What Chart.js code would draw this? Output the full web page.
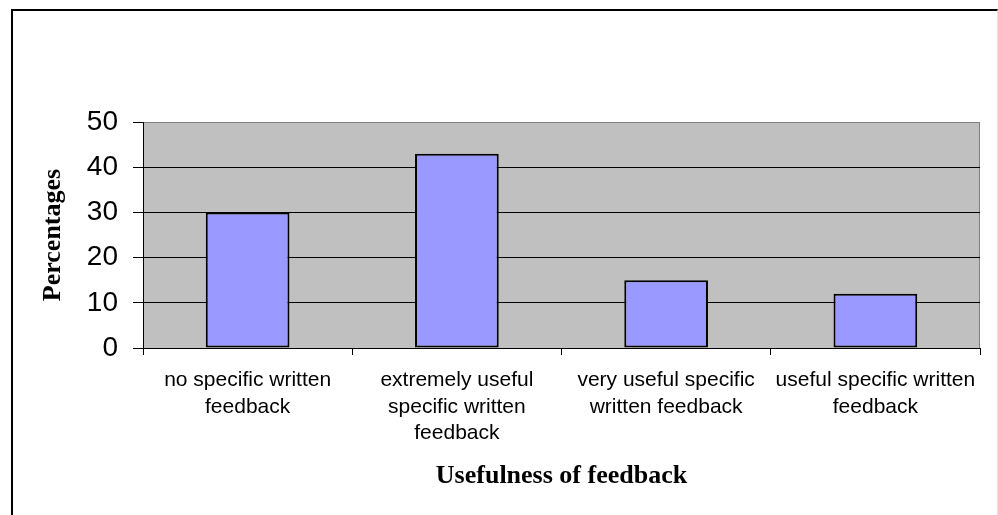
<!DOCTYPE html>
<html>
<head>
<meta charset="utf-8">
<script src="https://cdn.jsdelivr.net/npm/chart.js"></script>
<style>
  body { margin: 0; background: #fff; }
  #wrap { position: relative; width: 998px; height: 515px; }
  #frame { position: absolute; left: 11px; top: 9px; right: 0; bottom: -5px;
    border-left: 2px solid #000; border-top: 2px solid #000; border-right: 1px solid #e4e4e4; }
  canvas { position: absolute; left: 0; top: 0; }
</style>
</head>
<body>
<div id="wrap">
  <div id="frame"></div>
  <canvas id="c" width="998" height="515"></canvas>
</div>
<script>
const categories = [
  ['no specific written', 'feedback'],
  ['extremely useful', 'specific written', 'feedback'],
  ['very useful specific', 'written feedback'],
  ['useful specific written', 'feedback']
];
const percentages = [30, 43, 15, 12];
const yTicks = [0, 10, 20, 30, 40, 50];

// grey plot area with a grey frame on the right
const plotBg = {
  id: 'plotBg',
  beforeDraw(chart) {
    let a = chart.chartArea, ctx = chart.ctx;
    ctx.save();
    ctx.fillStyle = '#c0c0c0';
    ctx.fillRect(a.left, a.top, a.right - a.left, a.bottom - a.top);
    ctx.strokeStyle = '#808080';
    ctx.lineWidth = 1;
    ctx.beginPath();
    ctx.moveTo(Math.round(a.right) - 0.5, a.top);
    ctx.lineTo(Math.round(a.right) - 0.5, a.bottom);
    ctx.stroke();
    ctx.restore();
  }
};

new Chart(document.getElementById('c'), {
  type: 'bar',
  data: {
    labels: categories,
    datasets: [{
      data: percentages,
      backgroundColor: '#9999ff',
      borderColor: '#000',
      borderWidth: 2,
      borderSkipped: false,
      categoryPercentage: 1,
      barPercentage: 0.4
    }]
  },
  options: {
    responsive: false,
    animation: false,
    devicePixelRatio: 1,
    layout: { padding: { top: 122, right: 18, left: 0, bottom: 0 } },
    plugins: { legend: { display: false }, tooltip: { enabled: false } },
    scales: {
      x: {
        afterFit: function(s) { s.height = 167; },
        grid: { offset: true, drawOnChartArea: false, drawTicks: true, tickLength: 7, tickColor: '#000' },
        border: { color: '#000', width: 1 },
        ticks: {
          color: '#000', padding: 12, autoSkip: false, maxRotation: 0,
          font: { family: 'Liberation Sans, Arial', size: 21, lineHeight: 1.27 }
        },
        title: {
          display: true, text: 'Usefulness of feedback', color: '#000',
          font: { family: 'Liberation Serif, Times New Roman', size: 26, weight: 'bold' },
          padding: { top: 0, bottom: 23 }
        }
      },
      y: {
        min: 0, max: 50,
        afterFit: function(s) { s.width = 143; },
        afterBuildTicks: function(s) { s.ticks = yTicks.map(v => ({ value: v })); },
        grid: {
          color: ctx => ctx.tick && ctx.tick.value === 50 ? '#808080' : '#000',
          tickColor: '#000', tickLength: 10, lineWidth: 1
        },
        border: { color: '#000', width: 1 },
        ticks: {
          color: '#000', padding: 15,
          font: { family: 'Liberation Sans, Arial', size: 28 }
        },
        title: {
          display: true, text: 'Percentages', color: '#000',
          font: { family: 'Liberation Serif, Times New Roman', size: 26, weight: 'bold' },
          padding: { top: 38, bottom: 0 }
        }
      }
    }
  },
  plugins: [plotBg]
});
</script>
</body>
</html>
